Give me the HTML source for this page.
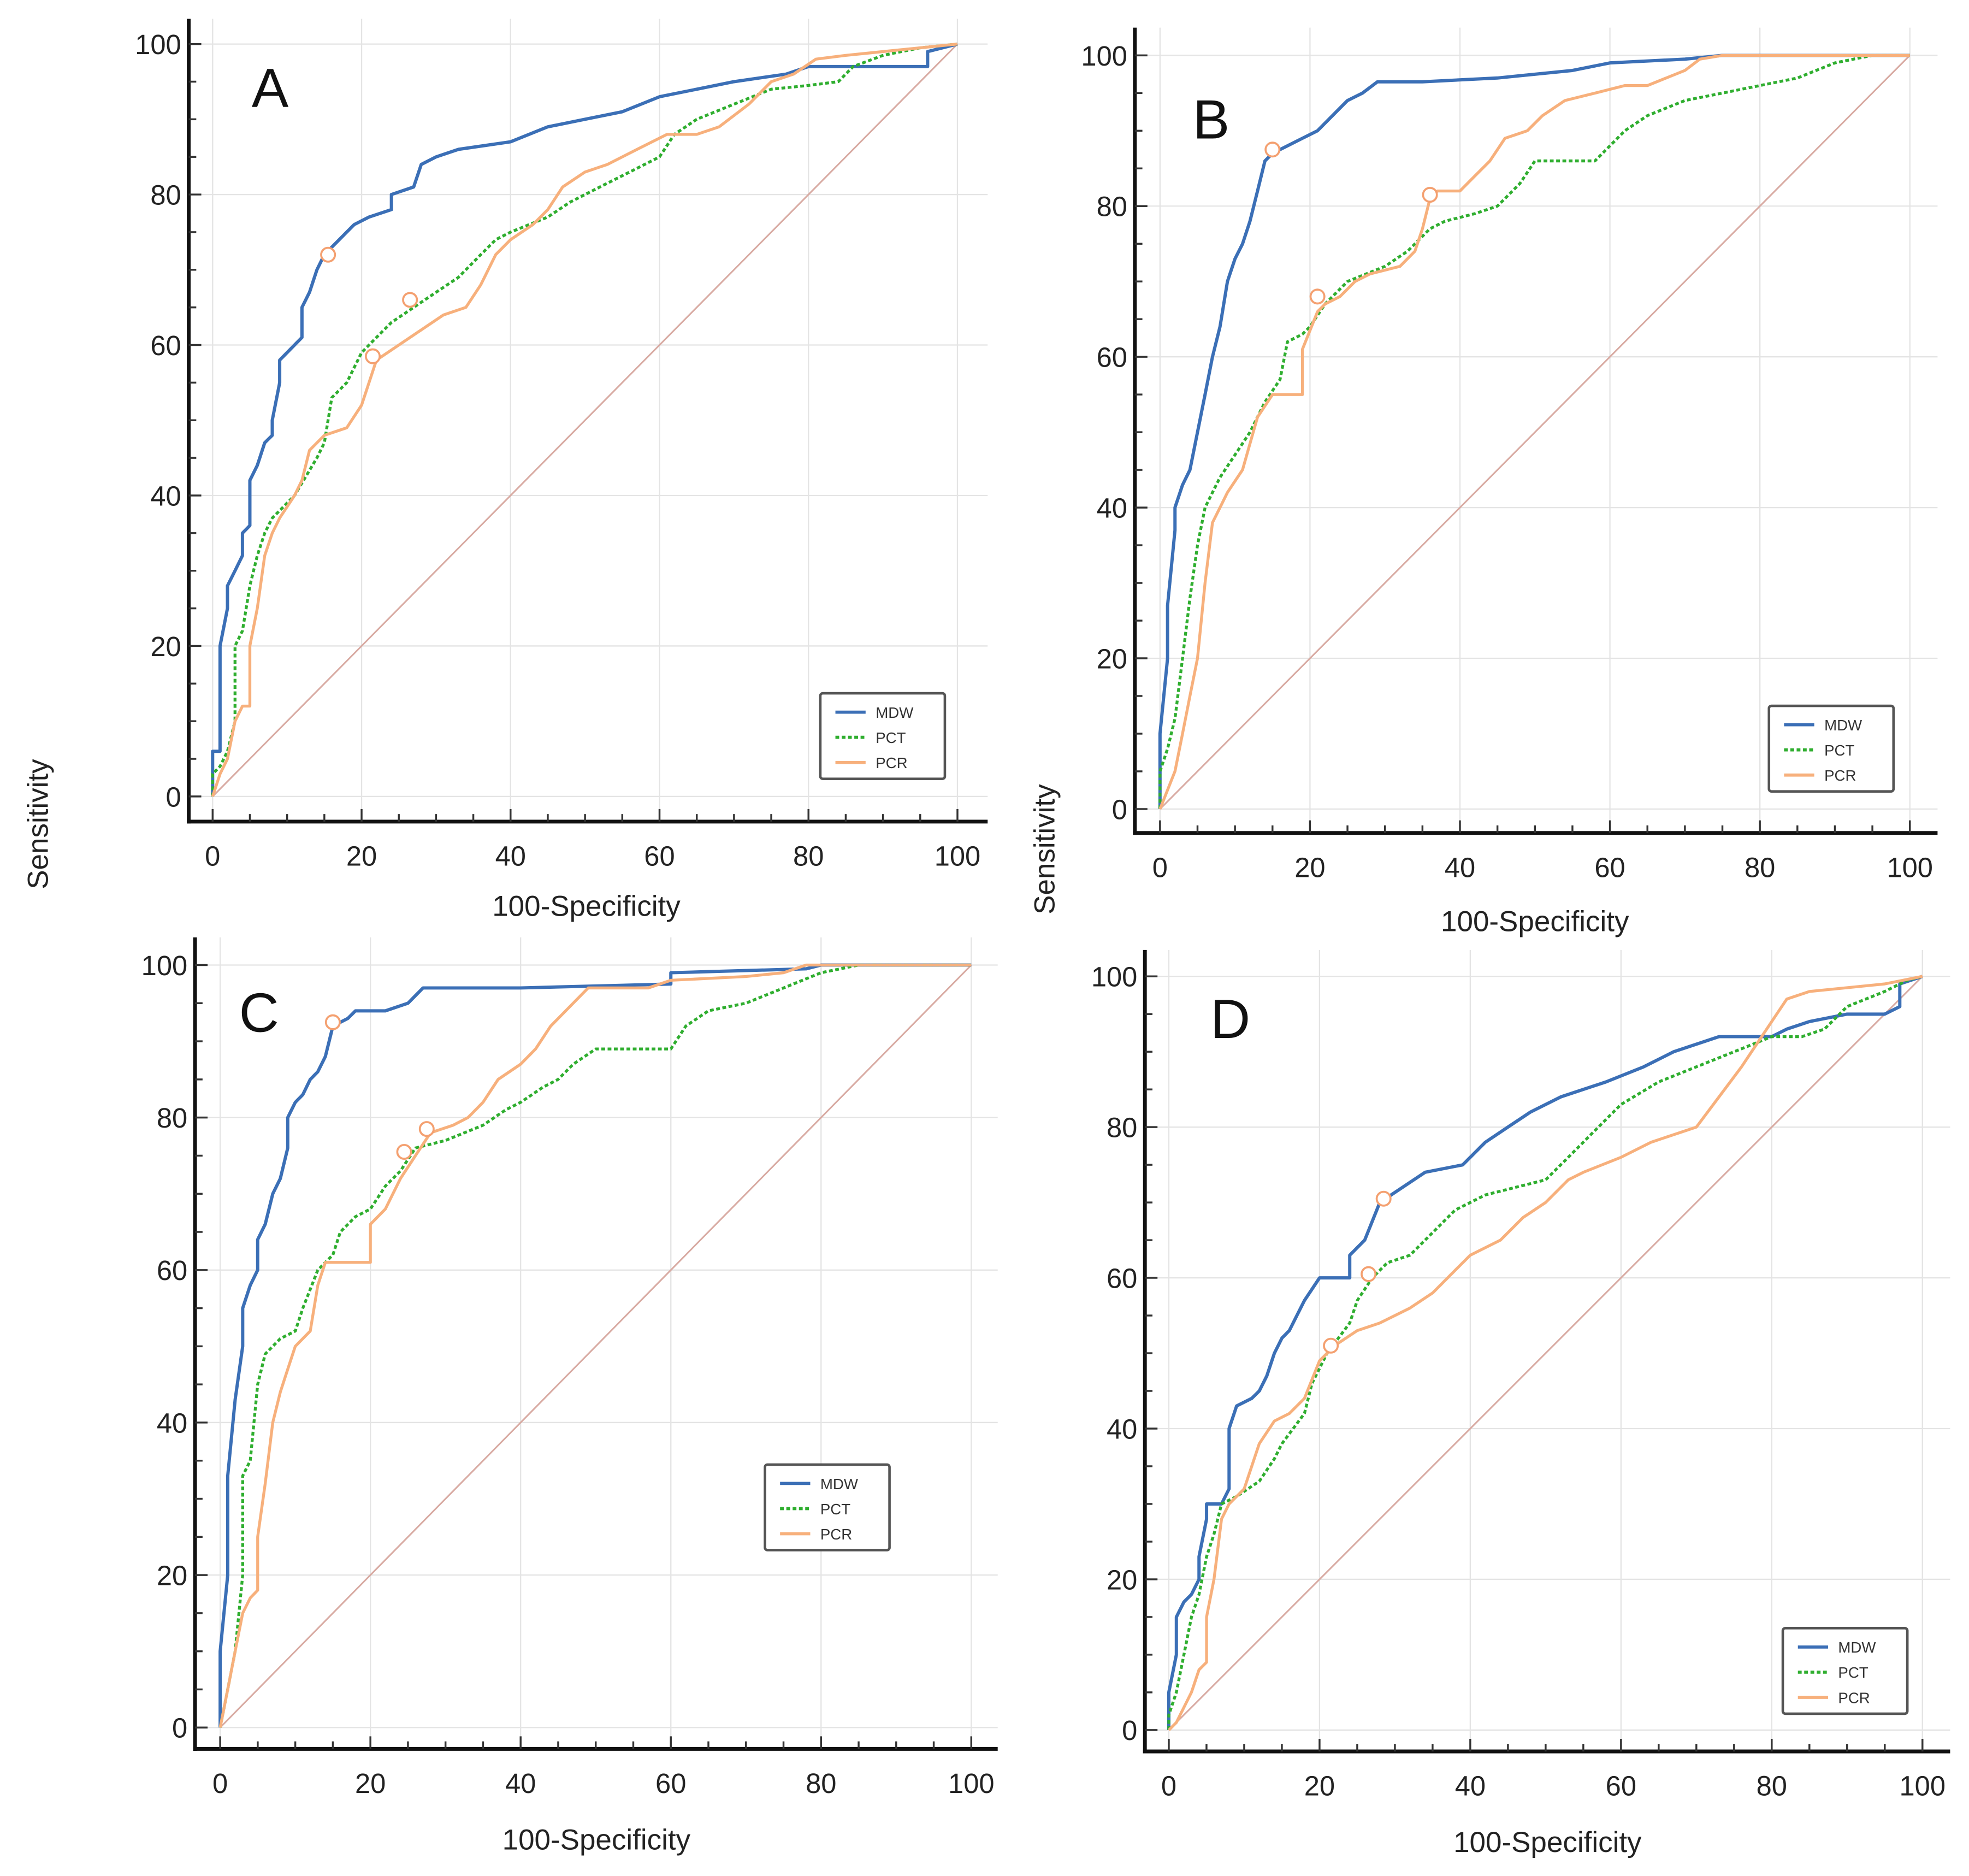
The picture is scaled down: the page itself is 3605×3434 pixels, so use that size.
<!DOCTYPE html>
<html><head><meta charset="utf-8">
<style>
html,body{margin:0;padding:0;background:#fff;}
svg{display:block;font-family:"Liberation Sans",Arial,sans-serif;}
</style></head>
<body>
<svg id="chart" width="3605" height="3434" viewBox="0 0 1565 1491" preserveAspectRatio="none" xmlns="http://www.w3.org/2000/svg">
<rect width="1565" height="1491" fill="#fff"/>
</svg>
<script>
// ---- data ----
const seriesNames = ["MDW","PCT","PCR"];
const tickValues = [0,20,40,60,80,100];
const panelLabels = ["A","B","C","D"];

const A_MDW = [[0,0],[0,6],[1,6],[1,20],[2,25],[2,28],[3,30],[4,32],[4,35],[5,36],[5,42],[6,44],[7,47],[8,48],[8,50],[9,55],[9,58],[10,59],[11,60],[12,61],[12,65],[13,67],[14,70],[15,72],[17,74],[19,76],[21,77],[24,78],[24,80],[27,81],[28,84],[30,85],[33,86],[40,87],[45,89],[50,90],[55,91],[60,93],[65,94],[70,95],[77,96],[80,97],[96,97],[96,99],[100,100]];
const A_PCT = [[0,0],[0,3],[1,4],[2,6],[3,10],[3,20],[4,22],[5,28],[6,32],[7,35],[8,37],[9,38],[11,40],[14,45],[15,47],[16,53],[18,55],[20,59],[22,61],[24,63],[27,65],[30,67],[33,69],[36,72],[38,74],[40,75],[45,77],[48,79],[52,81],[56,83],[60,85],[62,88],[65,90],[70,92],[75,94],[80,94.5],[84,95],[86,97],[90,98.5],[95,99.5],[100,100]];
const A_PCR = [[0,0],[1,3],[2,5],[3,10],[4,12],[5,12],[5,20],[6,25],[7,32],[8,35],[9,37],[11,40],[12,42],[13,46],[15,48],[18,49],[20,52],[22,58],[25,60],[28,62],[31,64],[34,65],[36,68],[38,72],[40,74],[43,76],[45,78],[47,81],[50,83],[53,84],[57,86],[61,88],[65,88],[68,89],[72,92],[75,95],[78,96],[81,98],[85,98.5],[90,99],[100,100]];
const A_CUT = [[15.5,72],[26.5,66],[21.5,58.5]];

const B_MDW = [[0,0],[0,10],[1,20],[1,27],[2,37],[2,40],[3,43],[4,45],[5,50],[6,55],[7,60],[8,64],[9,70],[10,73],[11,75],[12,78],[13,82],[14,86],[15,87],[17,88],[19,89],[21,90],[23,92],[25,94],[27,95],[29,96.5],[35,96.5],[45,97],[55,98],[60,99],[70,99.5],[75,100],[100,100]];
const B_PCT = [[0,0],[0,5],[1,8],[2,12],[3,20],[4,28],[5,35],[6,40],[7,42],[8,44],[10,47],[12,50],[14,54],[16,57],[17,62],[19,63],[20,64],[22,67],[25,70],[30,72],[33,74],[36,77],[38,78],[42,79],[45,80],[48,83],[50,86],[58,86],[60,88],[62,90],[65,92],[70,94],[75,95],[85,97],[90,99],[95,100],[100,100]];
const B_PCR = [[0,0],[2,5],[3,10],[4,15],[5,20],[6,30],[7,38],[8,40],[9,42],[11,45],[13,52],[15,55],[19,55],[19,61],[21,66],[22,67],[24,68],[26,70],[28,71],[32,72],[34,74],[35,77],[36,81],[37,82],[40,82],[42,84],[44,86],[46,89],[49,90],[51,92],[54,94],[58,95],[62,96],[65,96],[70,98],[72,99.5],[75,100],[100,100]];
const B_CUT = [[15,87.5],[21,68],[36,81.5]];

const C_MDW = [[0,0],[0,10],[1,20],[1,33],[2,43],[3,50],[3,55],[4,58],[5,60],[5,64],[6,66],[7,70],[8,72],[9,76],[9,80],[10,82],[11,83],[12,85],[13,86],[14,88],[15,92],[17,93],[18,94],[22,94],[25,95],[27,97],[30,97],[40,97],[60,97.5],[60,99],[78,99.5],[80,100],[100,100]];
const C_PCT = [[0,0],[1,5],[2,10],[3,20],[3,33],[4,35],[5,45],[6,49],[7,50],[8,51],[10,52],[11,55],[13,60],[15,62],[16,65],[18,67],[20,68],[22,71],[24,73],[26,76],[30,77],[35,79],[38,81],[40,82],[43,84],[45,85],[47,87],[50,89],[60,89],[62,92],[65,94],[70,95],[75,97],[80,99],[85,100],[100,100]];
const C_PCR = [[0,0],[1,5],[2,10],[3,15],[4,17],[5,18],[5,25],[6,32],[7,40],[8,44],[9,47],[10,50],[12,52],[13,58],[14,61],[20,61],[20,66],[22,68],[24,72],[26,75],[28,78],[31,79],[33,80],[35,82],[37,85],[40,87],[42,89],[44,92],[47,95],[49,97],[53,97],[57,97],[60,98],[70,98.5],[75,99],[78,100],[100,100]];
const C_CUT = [[15,92.5],[24.5,75.5],[27.5,78.5]];

const D_MDW = [[0,0],[0,5],[1,10],[1,15],[2,17],[3,18],[4,20],[4,23],[5,28],[5,30],[7,30],[8,32],[8,40],[9,43],[11,44],[12,45],[13,47],[14,50],[15,52],[16,53],[17,55],[18,57],[20,60],[24,60],[24,63],[26,65],[28,70],[31,72],[34,74],[39,75],[42,78],[45,80],[48,82],[52,84],[58,86],[63,88],[67,90],[73,92],[80,92],[82,93],[85,94],[90,95],[95,95],[97,96],[97,99],[100,100]];
const D_PCT = [[0,0],[0,2],[1,5],[2,10],[3,15],[4,18],[5,23],[6,26],[7,30],[9,31],[12,33],[14,36],[15,38],[18,42],[19,46],[21,50],[24,54],[25,57],[27,60],[29,62],[32,63],[36,67],[38,69],[42,71],[46,72],[50,73],[53,76],[57,80],[60,83],[65,86],[70,88],[75,90],[80,92],[84,92],[87,93],[90,96],[95,98],[98,99.5],[100,100]];
const D_PCR = [[0,0],[1,1],[2,3],[3,5],[4,8],[5,9],[5,15],[6,20],[7,28],[8,30],[10,32],[12,38],[14,41],[16,42],[18,44],[20,49],[22,51],[25,53],[28,54],[32,56],[35,58],[38,61],[40,63],[44,65],[47,68],[50,70],[53,73],[55,74],[60,76],[64,78],[67,79],[70,80],[73,84],[76,88],[78,91],[80,94],[82,97],[85,98],[90,98.5],[95,99],[100,100]];
const D_CUT = [[28.5,70.5],[26.5,60.5],[21.5,51]];

// ---- layout (pixel geometry, not data) ----
const panels = [
 {id:"a", x0:169,x1:761,y0:633,y1:35, axX:150, axTop:15, axBottom:653, axRight:785, lab:[200,85], leg:[652,551], xt:[466,728], yt:[30,655], s:[A_MDW,A_PCT,A_PCR], c:A_CUT},
 {id:"b", x0:922,x1:1518,y0:643,y1:44, axX:902, axTop:22, axBottom:662, axRight:1540, lab:[948,110], leg:[1406,561], xt:[1220,740], yt:[830,675], s:[B_MDW,B_PCT,B_PCR], c:B_CUT},
 {id:"c", x0:175,x1:772,y0:1373,y1:767, axX:155, axTop:745, axBottom:1390, axRight:793, lab:[190,820], leg:[608,1164], xt:[474,1470], yt:null, s:[C_MDW,C_PCT,C_PCR], c:C_CUT},
 {id:"d", x0:929,x1:1528,y0:1375,y1:776, axX:910, axTop:755, axBottom:1392, axRight:1550, lab:[962,825], leg:[1417,1294], xt:[1230,1472], yt:null, s:[D_MDW,D_PCT,D_PCR], c:D_CUT}
];
const colors = ["#3b6fb6","#2fae2f","#f7b07c"];
const NS = "http://www.w3.org/2000/svg";
const svg = document.getElementById("chart");
function mk(tag, attrs, parent){
  const e = document.createElementNS(NS, tag);
  for (const k in attrs) e.setAttribute(k, attrs[k]);
  (parent||svg).appendChild(e);
  return e;
}
panels.forEach((p,pi)=>{
  const g = mk("g",{});
  
  
  const sx = v => p.x0 + (p.x1-p.x0)*v/100;
  const sy = v => p.y0 + (p.y1-p.y0)*v/100;
  // grid
  tickValues.forEach(t=>{
    const gl = mk("line",{x1:sx(t),x2:sx(t),y1:p.axTop,y2:p.axBottom,stroke:"#e4e4e4","stroke-width":1},g);
    
    
    const gh = mk("line",{x1:p.axX,x2:p.axRight,y1:sy(t),y2:sy(t),stroke:"#e4e4e4","stroke-width":1},g);
    
    
  });
  // diagonal
  const dg = mk("line",{x1:sx(0),y1:sy(0),x2:sx(100),y2:sy(100),stroke:"#d8aaa2","stroke-width":1.3},g);
  
  
  // axes
  const ya = mk("line",{x1:p.axX,x2:p.axX,y1:p.axTop,y2:p.axBottom+1.5,stroke:"#111","stroke-width":3},g);
  
  
  const xa = mk("line",{x1:p.axX-1.5,x2:p.axRight,y1:p.axBottom,y2:p.axBottom,stroke:"#111","stroke-width":3},g);
  
  
  for(let v=0; v<=100; v+=5){
    const major = v%20===0;
    const len = major?10:6;
    mk("line",{x1:sx(v),x2:sx(v),y1:p.axBottom,y2:p.axBottom-len,stroke:"#333","stroke-width":1.5},g);
    mk("line",{x1:p.axX,x2:p.axX+len,y1:sy(v),y2:sy(v),stroke:"#333","stroke-width":1.5},g);
  }
  tickValues.forEach(t=>{
    const tx = mk("text",{x:sx(t),y:p.axBottom+35,"text-anchor":"middle","font-size":22,fill:"#222"},g);
    tx.textContent = t;
    
    
    const ty = mk("text",{x:p.axX-6,y:sy(t)+8,"text-anchor":"end","font-size":22,fill:"#222"},g);
    ty.textContent = t;
    
    
  });
  // series
  p.s.forEach((pts,si)=>{
    const d = pts.map((q,i)=>(i?"L":"M")+sx(q[0]).toFixed(1)+" "+sy(q[1]).toFixed(1)).join(" ");
    const at = {d:d,fill:"none",stroke:colors[si],"stroke-width":si===0?2.6:2.3,"stroke-linejoin":"round"};
    if(si===1) at["stroke-dasharray"]="3 2";
    const pa = mk("path",at,g);
    
    
  });
  p.c.forEach((q,ci)=>{
    const c = mk("circle",{cx:sx(q[0]),cy:sy(q[1]),r:5.5,fill:"#fff",stroke:"#f4a070","stroke-width":1.6},g);
    
    
  });
  // legend
  const lg = mk("g",{},g);
  
  
  mk("rect",{x:p.leg[0],y:p.leg[1],width:99,height:68,rx:2,fill:"#fff",stroke:"#555","stroke-width":2},lg);
  seriesNames.forEach((n,si)=>{
    const yy = p.leg[1]+15+si*20;
    const la = {x1:p.leg[0]+12,x2:p.leg[0]+36,y1:yy,y2:yy,stroke:colors[si],"stroke-width":2.5};
    if(si===1) la["stroke-dasharray"]="3 2";
    const ll = mk("line",la,lg);
    
    
    const lt = mk("text",{x:p.leg[0]+44,y:yy+4.5,"font-size":12,fill:"#333"},lg);
    lt.textContent = n;
    
    
  });
  // labels
  const pl = mk("text",{x:p.lab[0],y:p.lab[1],"font-size":44,fill:"#111"},g);
  pl.textContent = panelLabels[pi];
  
  
  const xt = mk("text",{x:p.xt[0],y:p.xt[1],"text-anchor":"middle","font-size":23,fill:"#222"},g);
  xt.textContent = "100-Specificity";
  
  
  if(p.yt){
    const yt = mk("text",{x:p.yt[0]+8,y:p.yt[1],"text-anchor":"middle","font-size":23,fill:"#222",transform:"rotate(-90 "+(p.yt[0]+8)+" "+p.yt[1]+")"},g);
    yt.textContent = "Sensitivity";
    
    
  }
});
</script>
</body></html>
